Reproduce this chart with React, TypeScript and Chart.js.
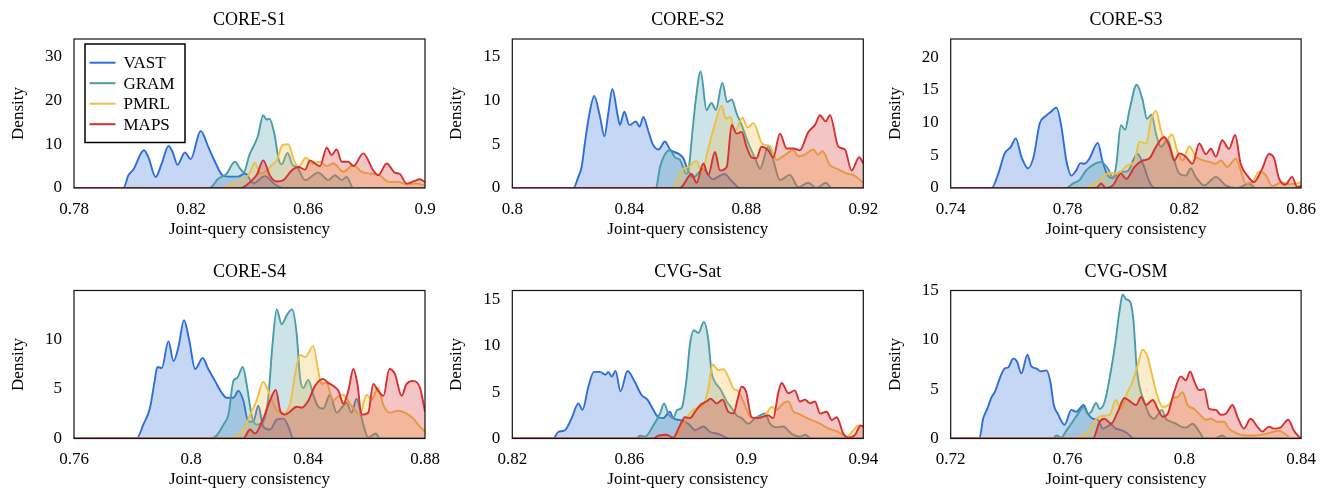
import React, { useEffect, useRef } from 'react';
import { Chart, registerables } from 'chart.js';
Chart.register(...registerables);

type P = [number, number];

// ---------- data ----------
const seriesNames = ['VAST', 'GRAM', 'PMRL', 'MAPS'];
const panelTitles = ['CORE-S1', 'CORE-S2', 'CORE-S3', 'CORE-S4', 'CVG-Sat', 'CVG-OSM'];
const xMins = [0.78, 0.8, 0.74, 0.76, 0.82, 0.72];
const xMaxs = [0.9, 0.92, 0.86, 0.88, 0.94, 0.84];
const xTickVals = [
  [0.78, 0.82, 0.86, 0.9],
  [0.8, 0.84, 0.88, 0.92],
  [0.74, 0.78, 0.82, 0.86],
  [0.76, 0.8, 0.84, 0.88],
  [0.82, 0.86, 0.9, 0.94],
  [0.72, 0.76, 0.8, 0.84],
];
const yMaxs = [34, 17, 22.8, 14.9, 16, 15];
const yTickVals = [
  [0, 10, 20, 30],
  [0, 5, 10, 15],
  [0, 5, 10, 15, 20],
  [0, 5, 10],
  [0, 5, 10, 15],
  [0, 5, 10, 15],
];
const xLabel = 'Joint-query consistency';
const yLabel = 'Density';

// CORE-S1
const s1Vast: P[] = [[0.78,0],[0.7969,0],[0.7986,2.9],[0.8003,4.2],[0.8039,8.6],[0.8054,7.1],[0.8079,2.5],[0.8100,5.6],[0.8123,9.6],[0.8137,8.2],[0.8154,5.3],[0.8179,8.1],[0.8199,6.6],[0.8233,13.0],[0.8259,9.4],[0.8282,6.0],[0.8308,2.9],[0.8333,2.6],[0.8360,2.6],[0.8385,3.3],[0.8413,1.1],[0.8453,2.7],[0.8487,0.8],[0.8516,0],[0.9,0]];
const s1Gram: P[] = [[0.78,0],[0.8263,0],[0.8293,2.1],[0.8322,3.3],[0.8350,6.0],[0.8368,4.4],[0.8380,3.6],[0.8400,7.6],[0.8428,11.7],[0.8447,16.6],[0.8458,15.6],[0.8468,15.8],[0.8485,12.4],[0.8500,6.5],[0.8510,5.4],[0.8530,8.0],[0.8548,5.2],[0.8562,4.8],[0.8590,1.8],[0.8635,3.5],[0.8670,1.8],[0.8692,2.9],[0.8715,1.8],[0.8732,2.5],[0.8755,0],[0.9,0]];
const s1Pmrl: P[] = [[0.78,0],[0.8308,0],[0.8345,1.0],[0.8373,1.8],[0.8396,2.9],[0.8419,5.8],[0.8436,3.3],[0.8459,4.0],[0.8476,5.2],[0.8493,6.3],[0.8513,9.8],[0.8533,10.0],[0.8550,6.7],[0.8567,4.8],[0.8593,6.9],[0.8613,5.6],[0.8641,6.0],[0.8664,5.0],[0.8687,5.6],[0.8721,3.7],[0.8755,5.2],[0.8783,3.7],[0.8812,3.3],[0.8846,2.9],[0.8875,1.4],[0.8909,1.4],[0.8937,0.8],[0.8972,1.0],[0.9,0.6]];
const s1Maps: P[] = [[0.78,0],[0.8368,0],[0.8396,1.0],[0.8425,3.0],[0.8447,6.3],[0.8470,2.8],[0.8493,1.5],[0.8516,1.8],[0.8544,4.0],[0.8567,4.8],[0.8590,4.2],[0.8607,6.3],[0.8630,5.3],[0.8641,5.0],[0.8664,9.2],[0.8681,7.5],[0.8698,8.8],[0.8715,6.0],[0.8738,6.0],[0.8755,5.0],[0.8789,7.9],[0.8823,4.0],[0.8840,2.9],[0.8869,5.6],[0.8897,3.5],[0.8914,3.2],[0.8937,1.0],[0.8960,1.5],[0.8983,2.0],[0.9,1.3]];

// CORE-S2
const s2Vast: P[] = [[0.8,0],[0.8209,0],[0.8226,1.3],[0.8237,2.4],[0.8248,5.1],[0.8266,8.9],[0.8280,10.5],[0.8300,8.1],[0.8315,5.9],[0.8328,8.5],[0.8342,11.3],[0.8360,8.3],[0.8368,7.2],[0.8383,8.7],[0.8400,7.2],[0.8423,7.6],[0.8435,7.0],[0.8448,8.1],[0.8465,6.5],[0.8480,5.0],[0.8500,4.4],[0.8522,5.3],[0.8539,4.4],[0.8568,3.9],[0.8585,3.4],[0.8596,2.4],[0.8618,1.2],[0.8653,2.2],[0.8685,1.0],[0.8725,1.6],[0.8750,0.8],[0.8778,0],[0.92,0]];
const s2Gram: P[] = [[0.8,0],[0.8491,0],[0.8505,2.4],[0.8539,4.3],[0.8556,3.5],[0.8573,3.2],[0.8596,1.6],[0.8604,2.4],[0.8616,6.5],[0.8627,10.0],[0.8644,13.3],[0.8664,8.9],[0.8681,9.7],[0.8696,8.9],[0.8718,12.0],[0.8735,9.8],[0.8750,10.1],[0.8767,8.5],[0.8784,7.2],[0.8807,5.1],[0.8830,3.4],[0.8847,2.2],[0.8875,4.7],[0.8892,3.2],[0.8915,0.9],[0.8949,1.5],[0.8978,0.1],[0.9012,0.6],[0.9040,0],[0.9072,0.6],[0.9092,0],[0.92,0]];
const s2Pmrl: P[] = [[0.8,0],[0.8550,0],[0.8579,2.0],[0.8602,2.4],[0.8630,3.1],[0.8647,1.8],[0.8670,4.5],[0.8690,7.0],[0.8716,9.4],[0.8730,7.9],[0.8746,8.1],[0.8761,6.5],[0.8787,8.0],[0.8804,6.9],[0.8824,7.4],[0.8856,5.0],[0.8881,4.8],[0.8904,3.2],[0.8925,3.6],[0.8961,4.3],[0.8978,3.6],[0.9000,3.8],[0.9029,4.4],[0.9045,3.8],[0.9061,4.2],[0.9086,2.6],[0.9110,2.2],[0.9149,1.6],[0.9165,1.5],[0.92,0.6]];
const s2Maps: P[] = [[0.8,0],[0.8573,0],[0.8613,1.6],[0.8630,0.6],[0.8653,2.8],[0.8670,1.5],[0.8693,4.1],[0.8710,2.0],[0.8733,2.4],[0.8750,7.2],[0.8767,6.2],[0.8784,6.4],[0.8801,4.7],[0.8818,3.5],[0.8835,3.4],[0.8852,4.7],[0.8875,4.3],[0.8892,3.5],[0.8915,6.2],[0.8938,4.5],[0.8961,4.5],[0.8983,4.3],[0.9012,6.4],[0.9035,7.2],[0.9052,8.3],[0.9071,7.6],[0.9086,8.3],[0.9115,4.7],[0.9137,4.4],[0.9160,2.0],[0.9186,3.5],[0.92,2.8]];

// CORE-S3
const s3Vast: P[] = [[0.74,0],[0.7540,0],[0.7563,2.2],[0.7585,5.3],[0.7606,6.3],[0.7623,7.6],[0.7642,4.8],[0.7665,3.0],[0.7684,4.8],[0.7705,9.9],[0.7722,10.9],[0.7739,11.5],[0.7762,12.3],[0.7779,9.4],[0.7796,4.2],[0.7813,1.9],[0.7830,2.7],[0.7844,3.8],[0.7858,3.7],[0.7875,4.5],[0.7904,6.9],[0.7919,4.2],[0.7938,1.9],[0.7955,1.5],[0.7978,2.4],[0.8006,2.6],[0.8040,5.2],[0.8060,3.5],[0.8080,1.0],[0.8098,0],[0.86,0]];
const s3Gram: P[] = [[0.74,0],[0.7796,0],[0.7819,0.7],[0.7841,1.2],[0.7864,2.7],[0.7893,3.7],[0.7915,4.0],[0.7938,3.0],[0.7955,1.7],[0.7966,3.2],[0.7983,9.6],[0.7997,8.9],[0.8012,11.9],[0.8037,15.8],[0.8057,13.5],[0.8072,10.6],[0.8088,11.2],[0.8103,8.3],[0.8120,6.3],[0.8143,7.4],[0.8160,5.0],[0.8183,2.2],[0.8205,1.9],[0.8222,3.0],[0.8239,1.7],[0.8268,0.4],[0.8308,1.7],[0.8342,0.4],[0.8382,0],[0.8421,0.7],[0.8444,0],[0.86,0]];
const s3Pmrl: P[] = [[0.74,0],[0.7858,0],[0.7898,0.8],[0.7944,2.3],[0.7972,2.2],[0.8006,3.5],[0.8029,4.0],[0.8046,7.1],[0.8069,6.8],[0.8086,10.4],[0.8103,11.8],[0.8120,8.8],[0.8137,7.3],[0.8158,8.2],[0.8177,5.5],[0.8194,4.2],[0.8217,6.4],[0.8239,4.8],[0.8268,4.2],[0.8285,4.0],[0.8308,3.7],[0.8325,4.2],[0.8347,3.2],[0.8376,4.5],[0.8393,2.7],[0.8410,0.7],[0.8433,0.9],[0.8456,2.5],[0.8478,2.0],[0.8501,0.3],[0.8535,0.9],[0.8558,0.6],[0.8586,0.7],[0.86,0.9]];
const s3Maps: P[] = [[0.74,0],[0.7898,0],[0.7915,0.7],[0.7932,0],[0.7955,0.4],[0.7983,2.2],[0.8001,1.4],[0.8029,3.2],[0.8057,4.2],[0.8080,4.5],[0.8103,6.3],[0.8131,7.8],[0.8148,6.5],[0.8166,4.2],[0.8183,5.3],[0.8205,4.8],[0.8228,3.7],[0.8251,6.8],[0.8274,5.2],[0.8291,6.0],[0.8308,4.8],[0.8330,7.3],[0.8353,6.0],[0.8374,8.1],[0.8393,3.7],[0.8416,1.9],[0.8438,0.9],[0.8467,3.0],[0.8490,5.2],[0.8507,4.6],[0.8524,1.5],[0.8546,0.5],[0.8569,1.7],[0.8586,0.2],[0.86,0.3]];

// CORE-S4
const s4Vast: P[] = [[0.76,0],[0.7814,0],[0.7837,1.4],[0.7860,3.1],[0.7874,5.5],[0.7885,7.2],[0.7900,7.1],[0.7923,9.8],[0.7940,7.8],[0.7957,9.2],[0.7976,11.9],[0.7994,9.9],[0.8014,7.0],[0.8040,8.1],[0.8059,7.0],[0.8082,5.8],[0.8105,4.6],[0.8122,4.1],[0.8145,4.1],[0.8162,4.8],[0.8179,3.8],[0.8196,1.7],[0.8213,1.7],[0.8230,3.3],[0.8247,1.2],[0.8270,0.9],[0.8293,1.9],[0.8316,2.0],[0.8333,1.2],[0.8350,0],[0.88,0]];
const s4Gram: P[] = [[0.76,0],[0.8065,0],[0.8088,0.3],[0.8111,1.4],[0.8128,2.4],[0.8145,5.8],[0.8158,6.1],[0.8177,7.2],[0.8190,5.5],[0.8207,2.4],[0.8224,1.4],[0.8247,1.7],[0.8264,4.1],[0.8279,9.6],[0.8293,13.0],[0.8310,11.5],[0.8327,12.4],[0.8346,13.0],[0.8361,10.6],[0.8373,6.1],[0.8384,5.1],[0.8401,5.9],[0.8418,4.4],[0.8435,3.2],[0.8452,3.0],[0.8475,4.4],[0.8498,2.6],[0.8515,3.1],[0.8532,3.6],[0.8549,2.6],[0.8566,4.0],[0.8589,1.4],[0.8606,0.1],[0.8632,0.5],[0.8646,0],[0.88,0]];
const s4Pmrl: P[] = [[0.76,0],[0.8133,0],[0.8162,0.3],[0.8185,1.2],[0.8207,2.7],[0.8224,3.8],[0.8247,5.7],[0.8264,4.8],[0.8290,3.0],[0.8316,2.6],[0.8339,3.5],[0.8356,6.5],[0.8373,8.4],[0.8390,8.2],[0.8418,9.3],[0.8435,6.8],[0.8446,5.5],[0.8463,5.6],[0.8486,3.8],[0.8498,4.1],[0.8520,4.4],[0.8537,3.8],[0.8554,3.1],[0.8577,2.4],[0.8600,4.4],[0.8617,3.9],[0.8640,5.1],[0.8657,3.4],[0.8680,2.6],[0.8708,2.8],[0.8731,2.6],[0.8760,2.0],[0.8782,1.2],[0.88,0.7]];
const s4Maps: P[] = [[0.76,0],[0.8179,0],[0.8202,0.9],[0.8219,0.5],[0.8247,2.0],[0.8270,3.8],[0.8290,4.9],[0.8306,2.7],[0.8321,2.4],[0.8338,2.7],[0.8361,3.2],[0.8378,3.1],[0.8401,3.8],[0.8424,5.3],[0.8452,6.0],[0.8469,5.6],[0.8486,5.3],[0.8504,4.8],[0.8521,3.5],[0.8538,4.8],[0.8555,7.0],[0.8569,5.5],[0.8583,2.4],[0.8606,2.6],[0.8623,5.5],[0.8640,4.8],[0.8658,4.3],[0.8678,7.0],[0.8697,6.5],[0.8720,4.3],[0.8737,5.5],[0.8760,5.8],[0.8783,5.1],[0.88,2.7]];

// CVG-Sat
const s5Vast: P[] = [[0.82,0],[0.8340,0],[0.8357,0.7],[0.8380,0.9],[0.8403,2.2],[0.8426,3.8],[0.8440,3.1],[0.8460,5.6],[0.8479,7.2],[0.8500,7.2],[0.8519,6.9],[0.8528,7.2],[0.8540,6.7],[0.8553,7.3],[0.8570,5.1],[0.8594,7.3],[0.8619,6.1],[0.8642,4.7],[0.8662,4.2],[0.8682,3.1],[0.8699,2.3],[0.8716,2.2],[0.8739,2.9],[0.8750,2.2],[0.8773,2.0],[0.8802,1.6],[0.8825,0.9],[0.8853,1.3],[0.8876,0.7],[0.8904,0.5],[0.8944,0],[0.94,0]];
const s5Gram: P[] = [[0.82,0],[0.8625,0],[0.8636,0.3],[0.8654,0.2],[0.8682,1.4],[0.8705,2.7],[0.8719,3.8],[0.8733,2.7],[0.8750,2.2],[0.8764,3.1],[0.8779,3.3],[0.8796,6.5],[0.8807,10.1],[0.8821,11.7],[0.8836,11.4],[0.8855,12.6],[0.8870,10.7],[0.8881,7.2],[0.8893,6.1],[0.8910,5.4],[0.8933,4.0],[0.8950,3.3],[0.8967,2.5],[0.8984,2.2],[0.9007,1.6],[0.9030,2.2],[0.9047,2.5],[0.9064,2.7],[0.9081,1.6],[0.9104,1.2],[0.9126,1.3],[0.9155,0.5],[0.9183,0.2],[0.9201,0.4],[0.9223,0],[0.94,0]];
const s5Pmrl: P[] = [[0.82,0],[0.8739,0],[0.8773,0.7],[0.8802,2.5],[0.8830,3.3],[0.8853,3.6],[0.8870,5.4],[0.8885,8.0],[0.8904,7.4],[0.8921,7.5],[0.8938,6.7],[0.8956,5.4],[0.8973,5.1],[0.8990,4.0],[0.9007,2.7],[0.9024,2.2],[0.9047,2.3],[0.9064,2.5],[0.9087,3.4],[0.9104,3.1],[0.9126,3.8],[0.9144,4.0],[0.9161,2.9],[0.9178,2.7],[0.9201,2.3],[0.9223,2.0],[0.9252,1.6],[0.9280,1.1],[0.9315,0.7],[0.9343,0.2],[0.9366,0.9],[0.9383,1.4],[0.94,1.3]];
const s5Maps: P[] = [[0.82,0],[0.8682,0],[0.8699,0.3],[0.8728,0.4],[0.8750,0.1],[0.8773,1.4],[0.8790,2.3],[0.8807,2.2],[0.8825,2.9],[0.8842,3.6],[0.8864,4.0],[0.8878,4.3],[0.8899,3.8],[0.8919,4.2],[0.8938,2.9],[0.8956,2.7],[0.8970,4.2],[0.8984,5.6],[0.8999,5.1],[0.9018,2.3],[0.9035,2.2],[0.9052,2.3],[0.9075,2.5],[0.9092,2.2],[0.9109,4.9],[0.9121,6.0],[0.9144,4.9],[0.9166,5.2],[0.9183,4.0],[0.9201,4.2],[0.9218,3.8],[0.9235,4.0],[0.9252,2.7],[0.9275,2.9],[0.9292,2.0],[0.9309,2.3],[0.9332,0.5],[0.9349,0.1],[0.9372,0.4],[0.9391,1.4],[0.94,1.3]];

// CVG-OSM
const s6Vast: P[] = [[0.72,0],[0.7298,0],[0.7311,2.0],[0.7325,3.0],[0.7340,4.2],[0.7351,4.7],[0.7368,6.1],[0.7385,7.1],[0.7397,7.2],[0.7414,8.1],[0.7427,7.8],[0.7442,6.6],[0.7463,8.5],[0.7476,7.3],[0.7493,7.1],[0.7508,6.8],[0.7528,6.9],[0.7541,5.8],[0.7553,3.4],[0.7567,2.5],[0.7590,1.4],[0.7613,2.9],[0.7630,2.7],[0.7655,3.4],[0.7670,2.5],[0.7687,2.0],[0.7704,1.9],[0.7721,1.0],[0.7749,1.4],[0.7766,1.0],[0.7789,0.8],[0.7806,0.5],[0.7826,0],[0.84,0]];
const s6Gram: P[] = [[0.72,0],[0.7550,0],[0.7562,0.3],[0.7579,0.1],[0.7596,0.8],[0.7613,1.5],[0.7636,2.5],[0.7655,3.2],[0.7670,2.5],[0.7681,2.7],[0.7698,3.6],[0.7710,3.0],[0.7727,3.7],[0.7744,6.1],[0.7761,9.1],[0.7778,12.9],[0.7789,14.6],[0.7801,14.1],[0.7814,13.9],[0.7826,11.9],[0.7837,7.1],[0.7848,5.1],[0.7863,3.7],[0.7880,2.4],[0.7897,2.0],[0.7909,2.4],[0.7923,2.9],[0.7937,2.0],[0.7954,1.7],[0.7971,1.5],[0.7988,1.2],[0.8005,1.1],[0.8028,1.5],[0.8051,0.7],[0.8068,0],[0.8102,0],[0.8130,0.3],[0.8147,0],[0.84,0]];
const s6Pmrl: P[] = [[0.72,0],[0.7613,0],[0.7641,0.1],[0.7675,0.8],[0.7698,2.0],[0.7721,2.3],[0.7744,2.4],[0.7766,3.9],[0.7783,3.0],[0.7801,4.4],[0.7823,5.8],[0.7840,7.4],[0.7857,9.0],[0.7874,8.3],[0.7892,6.1],[0.7909,4.2],[0.7926,3.2],[0.7946,3.4],[0.7962,4.1],[0.7977,4.2],[0.7994,4.7],[0.8011,3.4],[0.8034,3.0],[0.8051,2.5],[0.8074,1.9],[0.8091,2.0],[0.8113,1.7],[0.8136,1.7],[0.8153,1.0],[0.8182,0.5],[0.8210,0.3],[0.8244,0.3],[0.8284,0.5],[0.8324,0.8],[0.8352,0.3],[0.8369,0],[0.84,0]];
const s6Maps: P[] = [[0.72,0],[0.7687,0],[0.7710,1.7],[0.7727,2.0],[0.7749,1.5],[0.7772,2.7],[0.7795,4.1],[0.7817,3.7],[0.7835,3.4],[0.7852,4.2],[0.7869,3.4],[0.7892,3.9],[0.7909,3.0],[0.7926,2.2],[0.7943,2.5],[0.7965,4.7],[0.7988,6.3],[0.8005,5.9],[0.8020,6.8],[0.8034,5.8],[0.8051,4.9],[0.8068,5.0],[0.8085,3.0],[0.8108,2.9],[0.8125,2.4],[0.8142,2.5],[0.8165,3.4],[0.8182,2.2],[0.8204,1.0],[0.8227,2.0],[0.8250,1.2],[0.8267,0.7],[0.8290,1.2],[0.8307,1.0],[0.8329,1.1],[0.8356,1.9],[0.8375,0.8],[0.8395,0.1],[0.84,0]];

const panelSeries: P[][][] = [
  [s1Vast, s1Gram, s1Pmrl, s1Maps],
  [s2Vast, s2Gram, s2Pmrl, s2Maps],
  [s3Vast, s3Gram, s3Pmrl, s3Maps],
  [s4Vast, s4Gram, s4Pmrl, s4Maps],
  [s5Vast, s5Gram, s5Pmrl, s5Maps],
  [s6Vast, s6Gram, s6Pmrl, s6Maps],
];

// ---------- styles / layout ----------
const W = 1327;
const H = 489;
const FONT = '"Liberation Serif", "Times New Roman", Times, serif';
const lineRGB = [[46, 110, 218], [72, 156, 170], [240, 190, 68], [214, 48, 48]];
const lineColors = lineRGB.map(([r, g, b]) => `rgb(${r},${g},${b})`);
const fillColors = lineRGB.map(([r, g, b]) => `rgba(${r},${g},${b},0.28)`);
const colLeft = [74, 512.3, 950.7];
const colRight = [425, 863.3, 1302.3];
const rowTop = [39, 290.5];
const rowBottom = [188, 438.5];
const Y_AXIS_W = 60;
const X_AXIS_H = 40;

const fmt = (v: number) => Number(v).toFixed(2).replace(/0+$/, '').replace(/\.$/, '');

function makeDecor(i: number) {
  return {
    id: 'decor' + i,
    afterDraw(chart: any) {
      const { ctx, chartArea: a } = chart;
      ctx.save();
      // frame
      ctx.strokeStyle = '#111';
      ctx.lineWidth = 1.2;
      ctx.strokeRect(a.left, a.top, a.right - a.left, a.bottom - a.top);
      ctx.fillStyle = '#000';
      // title
      ctx.font = `18px ${FONT}`;
      ctx.textAlign = 'center';
      ctx.textBaseline = 'alphabetic';
      ctx.fillText(panelTitles[i], (a.left + a.right) / 2, a.top - 14);
      // x label
      ctx.font = `17px ${FONT}`;
      ctx.fillText(xLabel, (a.left + a.right) / 2, a.bottom + 45.5);
      // y label
      ctx.save();
      ctx.translate(a.left - 51, (a.top + a.bottom) / 2);
      ctx.rotate(-Math.PI / 2);
      ctx.fillText(yLabel, 0, 0);
      ctx.restore();
      // legend (first panel only)
      if (i === 0) {
        const bx = a.left + 11, by = a.top + 5, bw = 100, bh = 98.5;
        ctx.fillStyle = '#fff';
        ctx.fillRect(bx, by, bw, bh);
        ctx.strokeStyle = '#000';
        ctx.lineWidth = 1.5;
        ctx.strokeRect(bx, by, bw, bh);
        ctx.font = `17px ${FONT}`;
        ctx.textAlign = 'left';
        ctx.textBaseline = 'middle';
        seriesNames.forEach((name, k) => {
          const y = by + 18.7 + k * 20.5;
          ctx.strokeStyle = lineColors[k];
          ctx.lineWidth = 2;
          ctx.beginPath();
          ctx.moveTo(bx + 4.5, y);
          ctx.lineTo(bx + 30.5, y);
          ctx.stroke();
          ctx.fillStyle = '#000';
          ctx.fillText(name, bx + 38.5, y + 1);
        });
      }
      ctx.restore();
    },
  };
}

function makeConfig(i: number): any {
  const col = i % 3;
  const row = Math.floor(i / 3);
  const L = colLeft[col], R = colRight[col], T = rowTop[row], B = rowBottom[row];
  const tickFont = { family: FONT, size: 17 };
  return {
    type: 'line',
    data: {
      datasets: panelSeries[i].map((pts, k) => ({
        label: seriesNames[k],
        data: pts.map(([x, y]) => ({ x, y })),
        borderColor: lineColors[k],
        backgroundColor: fillColors[k],
        fill: 'origin',
        borderWidth: 1.9,
        pointRadius: 0,
        cubicInterpolationMode: 'monotone',
        order: 3 - k,
      })),
    },
    options: {
      animation: false,
      responsive: false,
      devicePixelRatio: 1,
      events: [],
      layout: {
        padding: { left: L - Y_AXIS_W, right: W - R, top: T, bottom: H - B - X_AXIS_H },
      },
      plugins: { legend: { display: false }, tooltip: { enabled: false }, title: { display: false } },
      scales: {
        x: {
          type: 'linear',
          min: xMins[i],
          max: xMaxs[i],
          grid: { display: false, drawTicks: false },
          border: { display: false },
          afterBuildTicks: (s: any) => { s.ticks = xTickVals[i].map((v) => ({ value: v })); },
          afterFit: (s: any) => { s.height = X_AXIS_H; },
          ticks: { font: tickFont, color: '#000', padding: 11, maxRotation: 0, autoSkip: false, callback: (v: any) => fmt(v) },
        },
        y: {
          type: 'linear',
          min: 0,
          max: yMaxs[i],
          grid: { display: false, drawTicks: false },
          border: { display: false },
          afterBuildTicks: (s: any) => { s.ticks = yTickVals[i].map((v) => ({ value: v })); },
          afterFit: (s: any) => { s.width = Y_AXIS_W; },
          ticks: { font: tickFont, color: '#000', padding: 12, autoSkip: false, callback: (v: any) => String(v) },
        },
      },
    },
    plugins: [makeDecor(i)],
  };
}

function Panel({ idx }: { idx: number }) {
  const ref = useRef<HTMLCanvasElement>(null);
  useEffect(() => {
    const chart = new Chart(ref.current as HTMLCanvasElement, makeConfig(idx));
    return () => chart.destroy();
  }, [idx]);
  return (
    <canvas
      ref={ref}
      width={W}
      height={H}
      style={{ position: 'absolute', left: 0, top: 0, width: W, height: H }}
    />
  );
}

export default function App() {
  return (
    <div style={{ position: 'absolute', left: 0, top: 0, width: W, height: H, background: '#fff' }}>
      {panelTitles.map((_, i) => (
        <Panel key={i} idx={i} />
      ))}
    </div>
  );
}
